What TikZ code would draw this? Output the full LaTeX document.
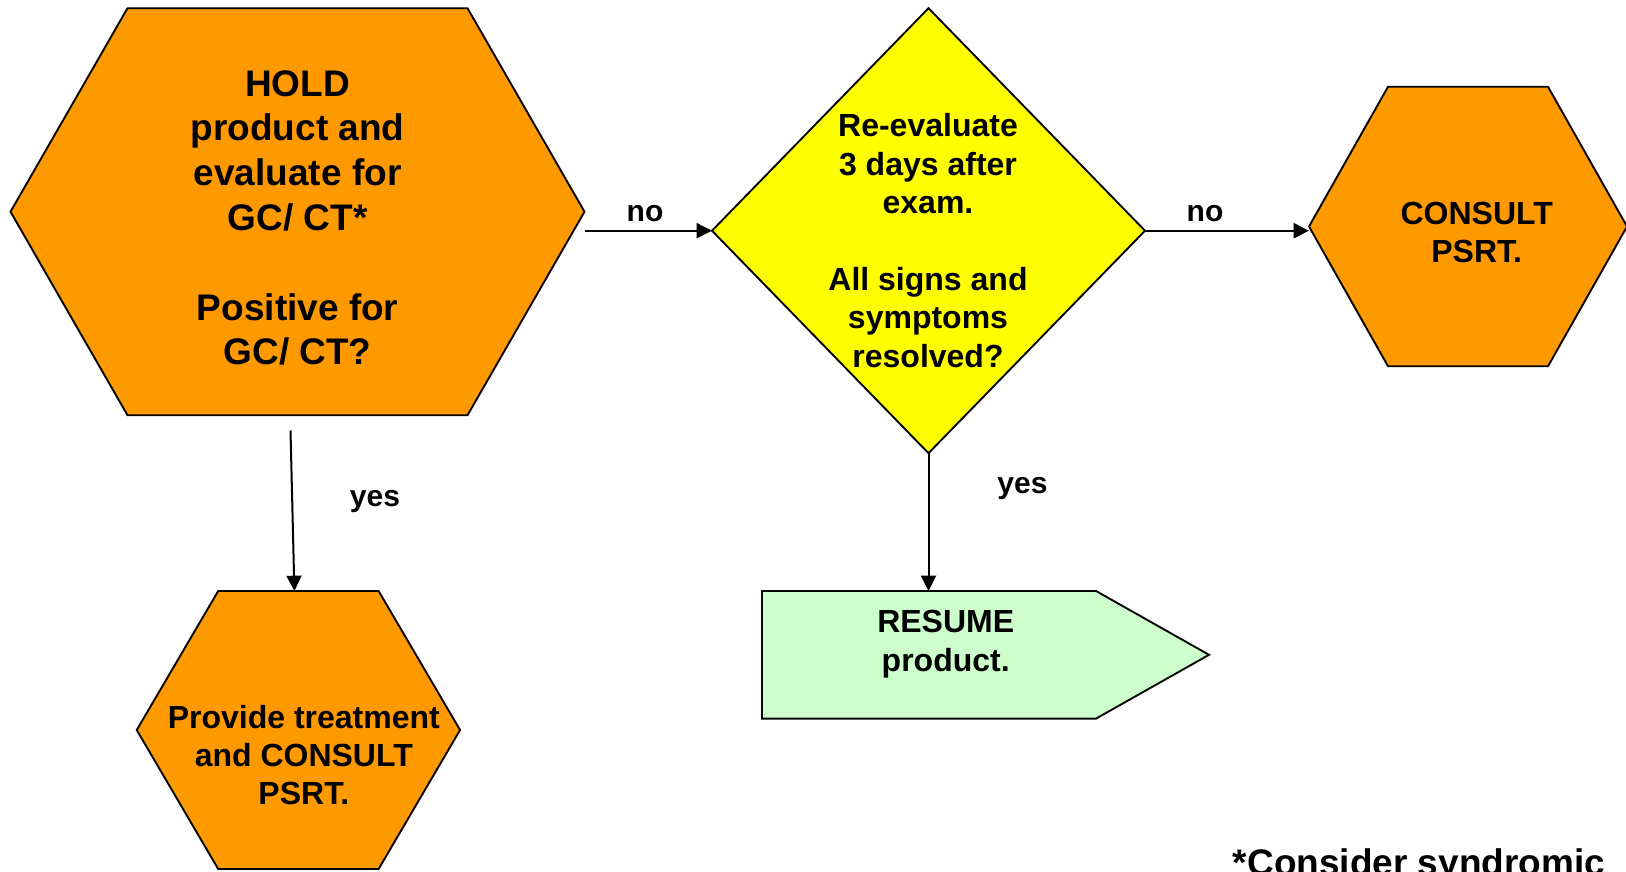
\documentclass[tikz,border=0pt]{standalone}
\usepackage{fontspec}
\setmainfont{Liberation Sans}
\usetikzlibrary{arrows.meta,calc}

\definecolor{hexorange}{HTML}{FF9900}
\definecolor{decyellow}{HTML}{FFFF00}
\definecolor{resgreen}{HTML}{CCFFCC}

% hexagon with pointed left/right ends, built on the frame of a node
\newcommand\drawhex[3]{%
  \draw[outline, fill=#3] (#1.west) -- ([xshift=#2]#1.north west) -- ([xshift=-#2]#1.north east)
    -- (#1.east) -- ([xshift=-#2]#1.south east) -- ([xshift=#2]#1.south west) -- cycle;}

\begin{document}
\begin{tikzpicture}[x=0.75pt, y=-0.75pt,
  frame/.style={draw=none, inner sep=0pt, outer sep=0pt, rectangle},
  outline/.style={draw=black, line width=1.4pt, line join=miter},
  bigtext/.style={inner sep=0pt, align=center, font=\bfseries\fontsize{27.75}{33.6}\selectfont},
  smalltext/.style={inner sep=0pt, align=center, font=\bfseries\fontsize{24}{28.8}\selectfont},
  lbl/.style={inner sep=0pt, font=\bfseries\fontsize{22.5}{27}\selectfont},
  flow/.style={line width=1.5pt, -{Triangle[length=11.5pt,width=11.25pt]}}]

\useasboundingbox (0,0) rectangle (1626,871);

% frames of the shapes
\node[frame, minimum width=430.5pt, minimum height=305.25pt] (hold) at (297.5,211.7) {};
\node[frame, minimum width=324.75pt, minimum height=333.75pt] (dia) at (928.5,230.7) {};
\node[frame, minimum width=238.5pt, minimum height=209.6pt] (consult) at (1468,226.5) {};
\node[frame, minimum width=242.5pt, minimum height=208.5pt] (treat) at (298.4,730) {};
\node[frame, minimum width=335.25pt, minimum height=95.7pt] (resume) at (985.5,654.8) {};

% shapes
\drawhex{hold}{87.75pt}{hexorange}
\drawhex{consult}{59.25pt}{hexorange}
\drawhex{treat}{61.1pt}{hexorange}
\draw[outline, fill=decyellow] (dia.north) -- (dia.east) -- (dia.south) -- (dia.west) -- cycle;
\draw[outline, fill=resgreen] (resume.north west) -- ([xshift=-84.75pt]resume.north east)
  -- (resume.east) -- ([xshift=-84.75pt]resume.south east) -- (resume.south west) -- cycle;

% texts
\node[bigtext] (holdtext) at (297.6,218) {HOLD\\product and\\evaluate for\\GC/ CT*\\[33.6pt]Positive for\\GC/ CT?};
\node[smalltext] (diatext) at (928,240.5) {Re-evaluate\\3 days after\\exam.\\[28.8pt]All signs and\\symptoms\\resolved?};
\node[smalltext] (consulttext) at (1476.7,232.5) {CONSULT\\PSRT.};
\node[smalltext] (treattext) at (303.8,755) {Provide treatment\\and CONSULT\\PSRT.};
\node[smalltext] (resumetext) at (945.7,644) {RESUME\\product.};

% connectors
\coordinate (holdout) at (585,230.7);
\coordinate (holddown) at (290.5,430.5);
\draw[flow] (holdout) -- (dia.west);
\draw[flow] (dia.east) -- (dia.east -| consult.west);
\draw[flow] (holddown) -- ([xshift=-3pt]treat.north);
\draw[flow] (dia.south) -- (dia.south |- resume.north);

% connector labels
\node[lbl] (no1) at (645,213.5) {no};
\node[lbl] (no2) at (1205,213.5) {no};
\node[lbl] (yes1) at (375,502) {yes};
\node[lbl] (yes2) at (1022.5,489) {yes};

% footnote
\node[bigtext, anchor=base west] (note) at (1232.7,875) {*Consider syndromic};
\end{tikzpicture}
\end{document}
